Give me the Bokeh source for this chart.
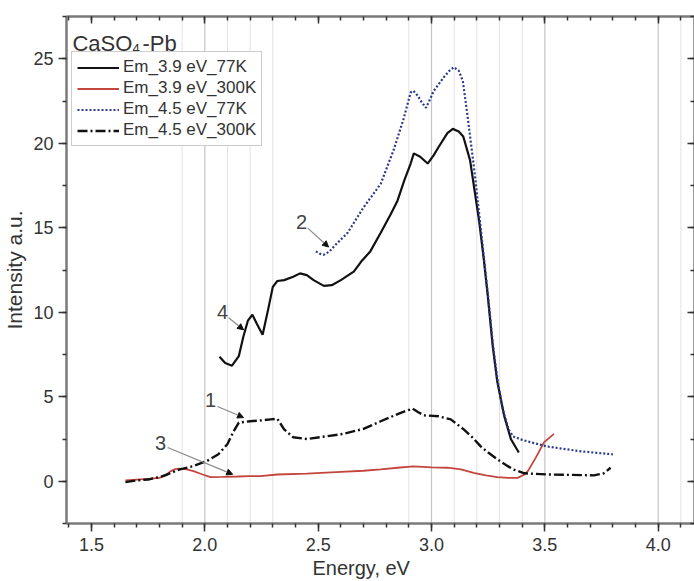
from bokeh.plotting import figure
from bokeh.models import (Range1d, LinearAxis, SingleIntervalTicker, NumeralTickFormatter,
                          CustomJSTickFormatter, Span, Label, Arrow, NormalHead, Title)
from bokeh.embed import file_html
from bokeh.resources import INLINE

# Emission spectra of CaSO4-Pb (energy in eV, intensity in a.u.)
em39_77k_x = [2.065, 2.09, 2.12, 2.15, 2.17, 2.19, 2.21, 2.23, 2.255, 2.28, 2.30, 2.32, 2.35,
              2.39, 2.42, 2.45, 2.48, 2.525, 2.56, 2.60, 2.657, 2.69, 2.73, 2.776, 2.82, 2.85,
              2.88, 2.908, 2.922, 2.95, 2.983, 3.01, 3.03, 3.07, 3.094, 3.12, 3.14, 3.17, 3.19,
              3.21, 3.23, 3.248, 3.27, 3.29, 3.32, 3.35, 3.385]
em39_77k_y = [7.37, 7.0, 6.84, 7.4, 8.55, 9.5, 9.85, 9.3, 8.67, 10.2, 11.5, 11.85, 11.9,
              12.1, 12.3, 12.2, 11.9, 11.56, 11.6, 11.9, 12.4, 13.0, 13.6, 14.7, 15.8, 16.6,
              17.8, 18.8, 19.4, 19.2, 18.8, 19.3, 19.75, 20.6, 20.85, 20.7, 20.4, 19.0, 17.2,
              15.4, 13.2, 11.0, 8.0, 5.9, 3.9, 2.5, 1.7]

em39_300k_x = [1.65, 1.70, 1.76, 1.80, 1.82, 1.85, 1.87, 1.89, 1.92, 1.95, 1.99, 2.025, 2.08,
               2.145, 2.20, 2.246, 2.32, 2.45, 2.60, 2.70, 2.776, 2.85, 2.92, 3.00, 3.07, 3.13,
               3.186, 3.24, 3.29, 3.34, 3.38, 3.41, 3.425, 3.46, 3.496, 3.54]
em39_300k_y = [0.05, 0.1, 0.15, 0.2, 0.3, 0.6, 0.72, 0.75, 0.7, 0.6, 0.4, 0.25, 0.26,
               0.28, 0.3, 0.3, 0.4, 0.45, 0.55, 0.62, 0.7, 0.8, 0.88, 0.82, 0.8, 0.7,
               0.5, 0.35, 0.25, 0.2, 0.2, 0.4, 0.6, 1.4, 2.3, 2.8]

em45_77k_x = [2.49, 2.51, 2.525, 2.55, 2.57, 2.63, 2.70, 2.776, 2.833, 2.878, 2.908, 2.92,
              2.94, 2.953, 2.975, 2.99, 3.01, 3.054, 3.08, 3.098, 3.12, 3.138, 3.16, 3.187,
              3.217, 3.25, 3.27, 3.29, 3.315, 3.34, 3.36, 3.40, 3.44, 3.51, 3.58, 3.66, 3.73, 3.80]
em45_77k_y = [13.6, 13.45, 13.4, 13.6, 13.9, 14.7, 16.2, 17.6, 19.6, 21.5, 23.0, 23.1,
              22.8, 22.5, 22.1, 22.5, 23.1, 23.9, 24.3, 24.5, 24.3, 23.7, 21.5, 18.6,
              15.0, 10.9, 8.2, 6.1, 4.2, 3.07, 2.65, 2.45, 2.3, 2.06, 1.92, 1.77, 1.68, 1.59]

em45_300k_x = [1.65, 1.70, 1.75, 1.80, 1.835, 1.87, 1.89, 1.95, 2.01, 2.06, 2.10, 2.127, 2.15,
               2.20, 2.25, 2.29, 2.32, 2.35, 2.39, 2.45, 2.53, 2.61, 2.70, 2.776, 2.82, 2.864,
               2.917, 2.94, 2.966, 3.03, 3.085, 3.142, 3.18, 3.217, 3.25, 3.29, 3.33, 3.36,
               3.41, 3.51, 3.60, 3.716, 3.76, 3.79]
em45_300k_y = [-0.05, 0.05, 0.1, 0.25, 0.4, 0.6, 0.7, 0.9, 1.2, 1.6, 2.2, 2.95, 3.47,
               3.55, 3.6, 3.66, 3.7, 3.07, 2.6, 2.5, 2.65, 2.8, 3.1, 3.55, 3.8, 4.05,
               4.3, 4.1, 3.9, 3.85, 3.66, 3.07, 2.6, 2.06, 1.7, 1.3, 0.95, 0.7,
               0.47, 0.4, 0.38, 0.35, 0.47, 0.8]

series_labels = ["Em_3.9 eV_77K", "Em_3.9 eV_300K", "Em_4.5 eV_77K", "Em_4.5 eV_300K"]

# vertical reference lines (eV)
ref_lines_major = [2.0, 3.0, 3.5, 4.0]
ref_lines_minor = [1.9, 2.1, 2.2, 2.3, 2.9, 3.1, 3.2, 3.3, 3.4, 4.1]

# curve numbers and their pointers: (text, text_x, text_y, arrow_x0, arrow_y0, arrow_x1, arrow_y1)
curve_tags = [
    ("1", 2.025, 4.83, 2.056, 4.42, 2.171, 3.77),
    ("2", 2.427, 15.33, 2.454, 14.98, 2.546, 13.86),
    ("3", 1.805, 2.24, 1.836, 2.0, 2.123, 0.41),
    ("4", 2.078, 10.02, 2.105, 9.67, 2.171, 8.96),
]

FONT = "Liberation Sans"
TXT = "#333333"
AX = "#7a7a7a"

p = figure(width=694, height=581, output_backend="svg", toolbar_location=None,
           x_range=Range1d(1.39, 4.16), y_range=Range1d(-2.5, 27.5),
           min_border_left=66, min_border_right=0, min_border_top=16, min_border_bottom=58,
           background_fill_color="white", border_fill_color="white")
p.outline_line_color = None
p.xgrid.visible = False
p.ygrid.visible = False

xt = SingleIntervalTicker(interval=0.5, num_minor_ticks=5)
yt = SingleIntervalTicker(interval=5, num_minor_ticks=2)

xa = p.xaxis[0]
xa.ticker = xt
xa.formatter = NumeralTickFormatter(format="0.0")
ya = p.yaxis[0]
ya.ticker = yt
ya.formatter = NumeralTickFormatter(format="0")
ya.axis_label = "Intensity a.u."

for ax in (xa, ya):
    ax.axis_line_color = AX
    ax.axis_line_width = 2.5
    ax.major_tick_line_color = "#333333"
    ax.minor_tick_line_color = "#333333"
    ax.major_tick_line_width = 1.5
    ax.minor_tick_line_width = 1.5
    ax.major_tick_out = 8
    ax.major_tick_in = 0
    ax.minor_tick_out = 4
    ax.minor_tick_in = 0
    ax.major_label_text_font = FONT
    ax.major_label_text_font_size = "18px"
    ax.major_label_text_color = TXT
    ax.axis_label_text_font = FONT
    ax.axis_label_text_font_style = "normal"
    ax.axis_label_text_color = TXT
xa.major_label_standoff = 6
ya.major_label_standoff = 5
ya.axis_label_standoff = 4
ya.axis_label_text_font_size = "21px"

# x title in its own panel below the axis, placed a little left of the frame centre
p.add_layout(Title(text="Energy, eV", align="left", offset=246, standoff=3,
                   text_font=FONT, text_font_size="20px", text_font_style="normal",
                   text_color=TXT), "below")

# mirrored axes with inward ticks and blank labels
blank = CustomJSTickFormatter(code="return ''")
for loc, tk in (("above", xt), ("right", yt)):
    ax = LinearAxis(ticker=tk, formatter=blank, major_label_standoff=0,
                    axis_line_color=AX, axis_line_width=2.5,
                    major_tick_line_color="#333333", minor_tick_line_color="#333333",
                    major_tick_line_width=1.5, minor_tick_line_width=1.5,
                    major_tick_in=7, major_tick_out=0, minor_tick_in=4, minor_tick_out=0)
    p.add_layout(ax, loc)

for e in ref_lines_major:
    p.add_layout(Span(location=e, dimension="height", line_color="#c4c4c4",
                      line_width=1.2, level="underlay"))
for e in ref_lines_minor:
    p.add_layout(Span(location=e, dimension="height", line_color="#e2e2e2",
                      line_width=1, level="underlay"))

p.line(em39_77k_x, em39_77k_y, line_color="#111111", line_width=2.2,
       legend_label=series_labels[0])
p.line(em39_300k_x, em39_300k_y, line_color="#c4453c", line_width=1.8,
       legend_label=series_labels[1])
p.line(em45_77k_x, em45_77k_y, line_color="#2c3a8e", line_width=2.2, line_dash="2 2",
       legend_label=series_labels[2])
p.line(em45_300k_x, em45_300k_y, line_color="#111111", line_width=2.4, line_dash="10 3 2 3",
       legend_label=series_labels[3])

for txt, tx, ty, ax0, ay0, ax1, ay1 in curve_tags:
    p.add_layout(Arrow(x_start=ax0, y_start=ay0, x_end=ax1, y_end=ay1,
                       line_color="#8a8a8a", line_width=1.2,
                       end=NormalHead(size=6, fill_color="#111111", line_color="#111111")))
    p.add_layout(Label(x=tx, y=ty, text=txt, text_font=FONT, text_font_size="20px",
                       text_color="#444444", text_align="center", text_baseline="middle"))

# sample name with subscript
p.add_layout(Label(x=1.416, y=25.9, text="CaSO", text_font=FONT, text_font_size="22px",
                   text_color=TXT, text_baseline="alphabetic"))
p.add_layout(Label(x=1.416, y=25.9, x_offset=60, y_offset=-5, text="4", text_font=FONT,
                   text_font_size="13px", text_color=TXT, text_baseline="alphabetic"))
p.add_layout(Label(x=1.416, y=25.9, x_offset=70, text="-Pb", text_font=FONT,
                   text_font_size="22px", text_color=TXT, text_baseline="alphabetic"))

lg = p.legend[0]
lg.location = (5, 377)
lg.label_text_font = FONT
lg.label_text_font_size = "17px"
lg.label_text_color = TXT
lg.label_height = 17
lg.glyph_height = 17
lg.glyph_width = 42
lg.label_standoff = 4
lg.spacing = 1
lg.padding = 5
lg.margin = 0
lg.border_line_color = "#9a9a9a"
lg.border_line_width = 1
lg.background_fill_alpha = 1

open("out.html", "w").write(file_html(p, INLINE))
